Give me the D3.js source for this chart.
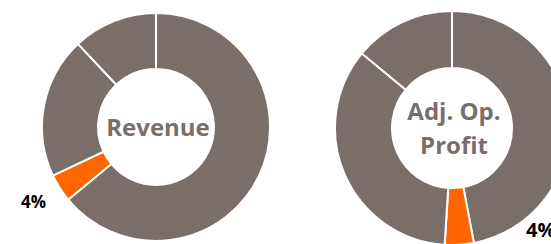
<!DOCTYPE html>
<meta charset="utf-8">
<style>
  body { margin: 0; background: #fff; }
  svg { display: block; font-family: "Open Sans", sans-serif; font-weight: bold; }
</style>

<script src="https://d3js.org/d3.v7.min.js"></script>

<div id="my_dataviz"></div>

<script>

// slice shares, clockwise from 12 o'clock (orange one is the highlighted segment)
var segments = ["rest", "highlight", "second", "third"]
var revenueValues = [64, 4, 20, 12]
var profitValues = [47, 4, 35, 14]
var donutTitles = [["Revenue"], ["Adj. Op.", "Profit"]]
var highlightLabels = ["4%", "4%"]

var width = 551, height = 244

var svg = d3.select("#my_dataviz")
  .append("svg")
    .attr("width", width)
    .attr("height", height)

var color = d3.scaleOrdinal()
  .domain(segments)
  .range(["#7a6e69", "#ff6600", "#7a6e69", "#7a6e69"])

var pie = d3.pie().sort(null).value(function(d) { return d.value; })

function drawDonut(values, cx, cy, outer, inner, title, label, labelPos) {
  var data = segments.map(function(s, i) { return { key: s, value: values[i] }; })
  var g = svg.append("g")
    .attr("transform", "translate(" + cx + "," + cy + ")")

  var arc = d3.arc().innerRadius(inner).outerRadius(outer)

  g.selectAll("path")
    .data(pie(data))
    .enter()
    .append("path")
      .attr("d", arc)
      .attr("fill", function(d) { return color(d.data.key); })
      .attr("stroke", "#fff")
      .attr("stroke-width", 2)

  // center title
  var lineH = 34
  var t = g.append("text")
    .attr("text-anchor", "middle")
    .attr("fill", "#7a6e69")
    .style("font-size", "24px")
  title.forEach(function(line, i) {
    t.append("tspan")
      .attr("x", 2)
      .attr("y", 9 + (i - (title.length - 1) / 2) * lineH)
      .text(line)
  })

  // label for the orange slice
  g.append("text")
    .attr("x", labelPos[0])
    .attr("y", labelPos[1])
    .attr("text-anchor", "start")
    .attr("fill", "#000")
    .style("font-size", labelPos[2] + "px")
    .text(label)
}

drawDonut(revenueValues, 156, 127, 114, 58, donutTitles[0], highlightLabels[0], [-135, 81, 17])
drawDonut(profitValues, 452, 128, 117, 60, donutTitles[1], highlightLabels[1], [74, 109, 20])

</script>
